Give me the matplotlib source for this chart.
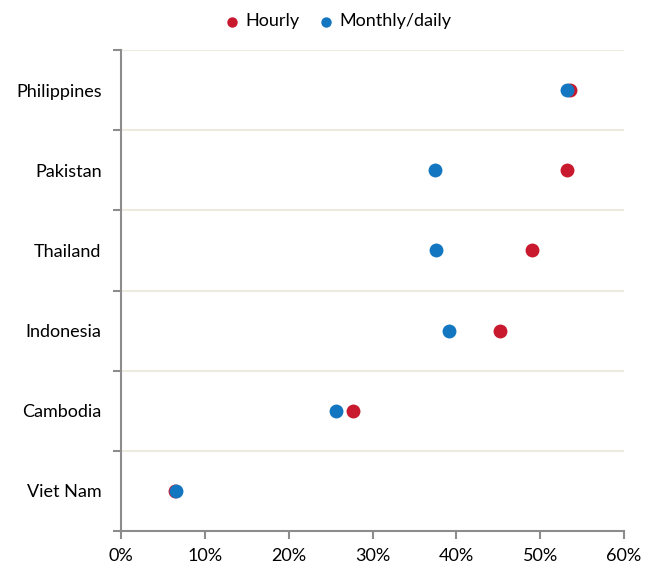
import numpy as np
import matplotlib
matplotlib.use('Agg')
import matplotlib.pyplot as plt

plt.rcParams['font.family'] = ['Lato', 'DejaVu Sans']

# data (top to bottom in the chart)
countries = ['Philippines', 'Pakistan', 'Thailand', 'Indonesia', 'Cambodia', 'Viet Nam']
hourly = [53.6, 53.2, 49.0, 45.2, 27.7, 6.5]
monthly_daily = [53.2, 37.5, 37.6, 39.1, 25.7, 6.6]

red = '#C8192E'
blue = '#1277C0'
spine_col = '#8C8C8C'
grid_col = '#EDEAE0'

fig = plt.figure(figsize=(6.46, 5.68), dpi=100)
ax = fig.add_axes([121/646, 1-531/568, 503/646, 481/568])

n = len(countries)
ypos = n - 0.5 - np.arange(n)

ax.scatter(hourly, ypos, s=100, color=red, zorder=3, label='Hourly', linewidths=0)
ax.scatter(monthly_daily, ypos, s=100, color=blue, zorder=4, label='Monthly/daily', linewidths=0)

ax.set_xlim(0, 60)
ax.set_ylim(0, n)
ax.set_xticks(np.arange(0, 61, 10))
ax.set_xticklabels(['%d%%' % v for v in range(0, 61, 10)], fontsize=13)
ax.set_yticks(np.arange(0, n + 1))
ax.set_yticklabels([])
ax.set_yticks(ypos, minor=True)
ax.set_yticklabels(countries, minor=True, fontsize=13)
ax.tick_params(axis='y', which='minor', length=0, pad=14)
ax.tick_params(axis='y', which='major', length=6, width=1.5, color=spine_col, direction='out')
ax.tick_params(axis='x', length=6, width=1.5, color=spine_col, direction='out', pad=6)

ax.grid(axis='y', which='major', color=grid_col, linewidth=1.5, zorder=0)
ax.set_axisbelow(True)

for s in ['top', 'right']:
    ax.spines[s].set_visible(False)
for s in ['left', 'bottom']:
    ax.spines[s].set_color(spine_col)
    ax.spines[s].set_linewidth(1.5)

fig.legend(loc='upper center', bbox_to_anchor=(0.522, 1.005), ncol=2, frameon=False,
           fontsize=13, handlelength=1.0, handletextpad=0.2, columnspacing=1.0,
           markerscale=0.75)

fig.savefig('out.png', dpi=100)
